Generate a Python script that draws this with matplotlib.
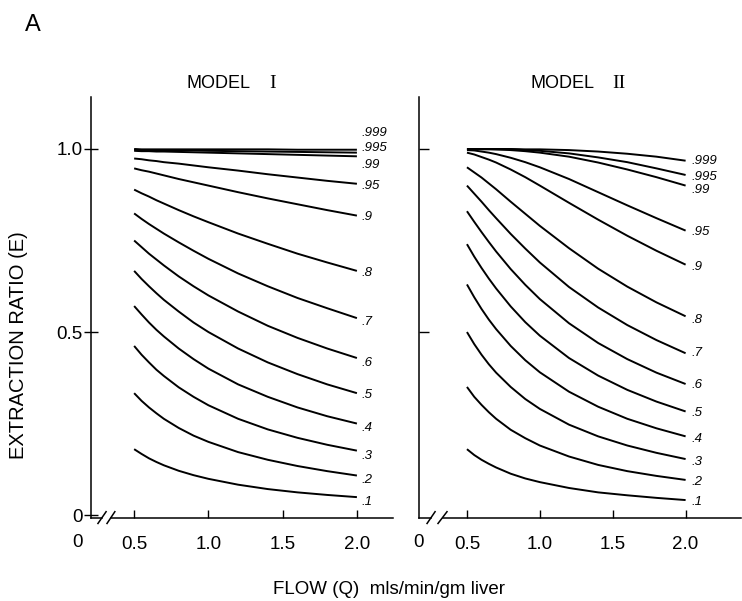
import matplotlib
matplotlib.use('Agg')
import matplotlib.pyplot as plt

# ---------------- data ----------------
flow = [0.5, 0.55, 0.6, 0.65, 0.7, 0.8, 0.9, 1.0, 1.2, 1.4, 1.6, 1.8, 2.0]
curve_labels = ['.1', '.2', '.3', '.4', '.5', '.6', '.7', '.8', '.9', '.95', '.99', '.995', '.999']
x_ticks = [0.5, 1.0, 1.5, 2.0]
x_tick_labels = ['0.5', '1.0', '1.5', '2.0']
y_ticks = [0, 0.5, 1.0]
y_tick_labels = ['0', '0.5', '1.0']

# Model I
m1_e100 = [0.180, 0.167, 0.155, 0.145, 0.136, 0.121, 0.109, 0.099, 0.083, 0.071, 0.062, 0.055, 0.049]
m1_e200 = [0.333, 0.312, 0.294, 0.278, 0.263, 0.238, 0.217, 0.200, 0.172, 0.151, 0.134, 0.120, 0.108]
m1_e300 = [0.462, 0.438, 0.417, 0.397, 0.380, 0.349, 0.323, 0.300, 0.263, 0.234, 0.211, 0.192, 0.176]
m1_e400 = [0.571, 0.548, 0.526, 0.506, 0.488, 0.455, 0.426, 0.400, 0.357, 0.323, 0.294, 0.270, 0.250]
m1_e500 = [0.667, 0.645, 0.625, 0.606, 0.588, 0.556, 0.526, 0.500, 0.455, 0.417, 0.385, 0.357, 0.333]
m1_e600 = [0.750, 0.732, 0.714, 0.698, 0.682, 0.652, 0.625, 0.600, 0.556, 0.517, 0.484, 0.455, 0.429]
m1_e700 = [0.824, 0.809, 0.795, 0.782, 0.769, 0.745, 0.722, 0.700, 0.660, 0.625, 0.593, 0.565, 0.538]
m1_e800 = [0.889, 0.879, 0.870, 0.860, 0.851, 0.833, 0.816, 0.800, 0.769, 0.741, 0.714, 0.690, 0.667]
m1_e900 = [0.947, 0.942, 0.938, 0.933, 0.928, 0.918, 0.909, 0.900, 0.882, 0.865, 0.849, 0.833, 0.818]
m1_e950 = [0.974, 0.972, 0.969, 0.967, 0.964, 0.960, 0.955, 0.950, 0.941, 0.931, 0.922, 0.913, 0.905]
m1_e990 = [0.995, 0.994, 0.994, 0.993, 0.993, 0.992, 0.991, 0.990, 0.988, 0.986, 0.984, 0.982, 0.980]
m1_e995 = [0.998, 0.997, 0.997, 0.997, 0.997, 0.996, 0.996, 0.995, 0.994, 0.993, 0.992, 0.991, 0.990]
m1_e999 = [1.000, 0.999, 0.999, 0.999, 0.999, 0.999, 0.999, 0.999, 0.999, 0.999, 0.998, 0.998, 0.998]

# Model II
m2_e100 = [0.180, 0.164, 0.151, 0.140, 0.130, 0.113, 0.100, 0.090, 0.074, 0.062, 0.054, 0.047, 0.041]
m2_e200 = [0.350, 0.323, 0.301, 0.281, 0.263, 0.233, 0.210, 0.190, 0.160, 0.137, 0.120, 0.107, 0.096]
m2_e300 = [0.500, 0.467, 0.438, 0.412, 0.389, 0.350, 0.317, 0.290, 0.247, 0.215, 0.190, 0.170, 0.153]
m2_e400 = [0.630, 0.595, 0.563, 0.534, 0.508, 0.462, 0.423, 0.390, 0.337, 0.296, 0.263, 0.237, 0.215]
m2_e500 = [0.740, 0.706, 0.675, 0.646, 0.619, 0.570, 0.527, 0.490, 0.429, 0.381, 0.342, 0.310, 0.283]
m2_e600 = [0.830, 0.801, 0.773, 0.746, 0.720, 0.672, 0.629, 0.590, 0.524, 0.470, 0.426, 0.389, 0.358]
m2_e700 = [0.900, 0.878, 0.856, 0.833, 0.811, 0.768, 0.728, 0.690, 0.623, 0.567, 0.519, 0.478, 0.442]
m2_e800 = [0.950, 0.936, 0.922, 0.906, 0.890, 0.856, 0.823, 0.790, 0.729, 0.673, 0.624, 0.581, 0.543]
m2_e900 = [0.990, 0.985, 0.978, 0.971, 0.963, 0.944, 0.923, 0.900, 0.853, 0.807, 0.763, 0.722, 0.684]
m2_e950 = [0.997, 0.996, 0.993, 0.990, 0.986, 0.976, 0.964, 0.950, 0.918, 0.882, 0.846, 0.811, 0.777]
m2_e990 = [1.000, 1.000, 0.999, 0.999, 0.999, 0.997, 0.994, 0.990, 0.979, 0.963, 0.944, 0.923, 0.900]
m2_e995 = [1.000, 1.000, 1.000, 1.000, 0.999, 0.999, 0.997, 0.995, 0.988, 0.977, 0.964, 0.947, 0.929]
m2_e999 = [1.000, 1.000, 1.000, 1.000, 1.000, 1.000, 0.999, 0.999, 0.997, 0.993, 0.987, 0.979, 0.968]

model1_curves = [m1_e100, m1_e200, m1_e300, m1_e400, m1_e500, m1_e600, m1_e700,
                 m1_e800, m1_e900, m1_e950, m1_e990, m1_e995, m1_e999]
model2_curves = [m2_e100, m2_e200, m2_e300, m2_e400, m2_e500, m2_e600, m2_e700,
                 m2_e800, m2_e900, m2_e950, m2_e990, m2_e995, m2_e999]

# label placement (layout, in data units)
m1_label_y = [0.036, 0.096, 0.161, 0.238, 0.328, 0.415, 0.527, 0.661, 0.814, 0.900, 0.956, 1.003, 1.044]
m2_label_y = [0.036, 0.090, 0.145, 0.208, 0.279, 0.355, 0.443, 0.533, 0.678, 0.773, 0.888, 0.923, 0.967]

# ---------------- figure ----------------
SANS = ['Liberation Sans', 'DejaVu Sans']
SERIF = ['Liberation Serif', 'DejaVu Serif']
plt.rcParams['font.family'] = SANS

W, H = 742, 601
fig = plt.figure(figsize=(W / 100, H / 100), dpi=100)


def px_rect(l, r, t, b):
    return [l / W, 1 - b / H, (r - l) / W, (b - t) / H]


ax1 = fig.add_axes(px_rect(91, 393, 97, 518))
ax2 = fig.add_axes(px_rect(419, 741, 97, 518))

LW = 1.4
for ax, curves, ly, lx, xlim in [(ax1, model1_curves, m1_label_y, 2.034, (0.2095, 2.243)),
                                  (ax2, model2_curves, m2_label_y, 2.041, (0.171, 2.38))]:
    for vals, lab, yy in zip(curves, curve_labels, ly):
        ax.plot(flow, vals, color='black', lw=LW, solid_capstyle='butt', solid_joinstyle='round')
        ax.text(lx, yy, lab, fontsize=9.5, style='italic', ha='left', va='center')
    ax.set_xlim(*xlim)
    ax.set_ylim(-0.008, 1.142)
    for s in ['top', 'right', 'bottom']:
        ax.spines[s].set_visible(False)
    ax.spines['left'].set_linewidth(1.1)
    ax.set_xticks(x_ticks)
    ax.set_xticklabels(x_tick_labels)
    ax.tick_params(axis='x', direction='in', length=6, width=1.0, pad=13, labelsize=13.5)
    ax.patch.set_visible(False)


# custom broken x-axis lines + break marks (axes fraction)
def broken_axis(ax, seg1_end, seg2_start, slashes):
    kw = dict(transform=ax.transAxes, color='black', lw=1.1, clip_on=False)
    ax.plot([0, seg1_end], [0, 0], **kw)
    ax.plot([seg2_start, 1.0], [0, 0], **kw)
    for (x0, x1) in slashes:
        ax.plot([x0, x1], [-0.013, 0.015], **kw)


broken_axis(ax1, 0.035, 0.066, [(0.023, 0.050), (0.053, 0.079)])
broken_axis(ax2, 0.037, 0.073, [(0.025, 0.050), (0.059, 0.087)])

# "0" on the broken x axes
ax1.text(-0.046, -0.059, '0', transform=ax1.transAxes, fontsize=13.5, ha='center', va='center')
ax2.text(-0.003, -0.059, '0', transform=ax2.transAxes, fontsize=13.5, ha='center', va='center')

# y ticks
ax1.set_yticks(y_ticks)
ax1.set_yticklabels(y_tick_labels)
ax1.tick_params(axis='y', direction='inout', length=10, width=1.0, pad=1, labelsize=13.5)
ax2.set_yticks(y_ticks[1:])
ax2.set_yticklabels([])
ax2.tick_params(axis='y', direction='in', length=7, width=1.0)

# titles
fig.text(219 / W, 1 - 84 / H, 'MODEL', fontsize=13, ha='center', va='center')
fig.text(273 / W, 1 - 84 / H, 'I', fontsize=14, ha='center', va='center', family=SERIF)
fig.text(562 / W, 1 - 84 / H, 'MODEL', fontsize=13, ha='center', va='center')
fig.text(619 / W, 1 - 84 / H, 'II', fontsize=14, ha='center', va='center', family=SERIF)

# axis labels and panel letter
fig.text(19 / W, 1 - 345 / H, 'EXTRACTION RATIO (E)', rotation=90, fontsize=14.5,
         ha='center', va='center')
fig.text(273 / W, 1 - 589 / H, 'FLOW (Q)  mls/min/gm liver', fontsize=13.5,
         ha='left', va='center')
fig.text(33 / W, 1 - 25 / H, 'A', fontsize=17, ha='center', va='center')

fig.savefig('out.png', dpi=100)
